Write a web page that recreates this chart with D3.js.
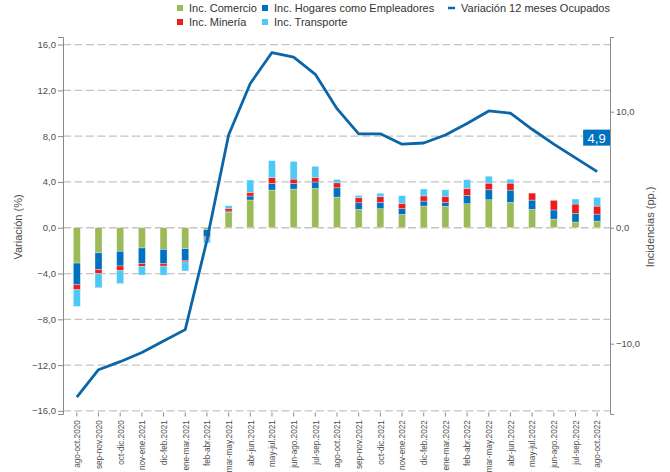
<!DOCTYPE html>
<html>
<head>
<meta charset="utf-8">
<script src="https://cdn.jsdelivr.net/npm/d3@7"></script>
<style>
  body { margin: 0; background: #fff; }
  text { font-family: "Liberation Sans", Arial, sans-serif; }
</style>
</head>
<body>
<svg width="670" height="472"></svg>
<script>
// ---------------------------- datos ----------
var periodos = ["ago-oct.2020","sep-nov.2020","oct-dic.2020","nov-ene.2021","dic-feb.2021",
    "ene-mar.2021","feb-abr.2021","mar-may.2021","abr-jun.2021","may-jul.2021","jun-ago.2021",
    "jul-sep.2021","ago-oct.2021","sep-nov.2021","oct-dic.2021","nov-ene.2022","dic-feb.2022",
    "ene-mar.2022","feb-abr.2022","mar-may.2022","abr-jun.2022","may-jul.2022","jun-ago.2022",
    "jul-sep.2022","ago-oct.2022"];
var comercio   = [-3.05,-2.16,-2.04,-1.75,-1.87,-1.81,-0.17,1.35,2.39,3.25,3.33,3.39,2.64,1.58,1.64,1.15,1.87,1.84,2.07,2.41,2.18,1.58,0.75,0.49,0.57];
var hogares    = [-1.87,-1.44,-1.26,-1.35,-1.24,-1.00,-0.57,0.09,0.34,0.57,0.49,0.55,0.80,0.57,0.55,0.49,0.42,0.32,0.72,0.86,1.06,0.80,0.78,0.75,0.60];
var mineria    = [-0.43,-0.37,-0.40,-0.23,-0.20,-0.14,-0.14,0.23,0.32,0.49,0.37,0.40,0.43,0.43,0.49,0.46,0.45,0.55,0.60,0.57,0.60,0.60,0.83,0.80,0.69];
var transporte = [-1.44,-1.21,-1.12,-0.75,-0.78,-0.78,-0.43,0.23,1.06,1.47,1.52,0.95,0.29,0.20,0.29,0.66,0.60,0.56,0.75,0.60,0.34,0,0,0.43,0.75];
var ocupados   = [-14.8,-12.4,-11.7,-10.9,-9.9,-8.9,-1.1,8.1,12.6,15.3,14.9,13.4,10.4,8.2,8.2,7.3,7.4,8.1,9.1,10.2,10.0,8.6,7.3,6.1,4.9];
var ticksIzq = [-16,-12,-8,-4,0,4,8,12,16];
var ticksDer = [-10,0,10];

var series = [
    {key: "comercio",   name: "Inc. Comercio",                 color: "#9bbb59"},
    {key: "hogares",    name: "Inc. Hogares como Empleadores", color: "#0070c0"},
    {key: "mineria",    name: "Inc. Minería",                  color: "#ee1c1c"},
    {key: "transporte", name: "Inc. Transporte",               color: "#4dc9f6"}
];
var lineColor = "#0a66a8";

var rows = periodos.map((p,i)=>{
    return {periodo: p, comercio: comercio[i], hogares: hogares[i], mineria: mineria[i], transporte: transporte[i]};
});

// ---------------------------- escalas ----------
var plotTop = 37, plotBottom = 414, plotLeft = 63, plotRight = 610;
var svg = d3.select('svg');
var fmt = d => d3.format(".1f")(d).replace(".", ",");

var x = d3.scaleBand()
    .domain(periodos)
    .range([66, 608])
    .paddingInner(0.677)
    .paddingOuter(0.3385);

var yIzq = d3.scaleLinear().domain([-16.27, 16.66]).range([plotBottom, plotTop]);
var yDer = d3.scaleLinear().domain([-16.06, 16.44]).range([plotBottom, plotTop]);

// grid
svg.append('g').selectAll('line')
    .data(ticksIzq)
    .enter().append('line')
    .attr('x1', plotLeft).attr('x2', plotRight)
    .attr('y1', d => yIzq(d)).attr('y2', d => yIzq(d))
    .style('stroke', '#c4c4c4')
    .style('stroke-width', 1.3)
    .style('stroke-dasharray', '8,3.5');

// ---------------------------- barras ----------
var stack = d3.stack()
    .keys(series.map(s => s.key))
    .offset(d3.stackOffsetDiverging);
var stacked = stack(rows);

svg.append('g').selectAll('g')
    .data(stacked)
    .enter().append('g')
    .style('fill', (d,i) => series[i].color)
    .selectAll('rect')
    .data(d => d)
    .enter().append('rect')
    .attr('x', d => x(d.data.periodo))
    .attr('width', x.bandwidth())
    .attr('y', d => yDer(Math.max(d[0], d[1])))
    .attr('height', d => Math.abs(yDer(d[0]) - yDer(d[1])))
    .style('stroke', '#fff')
    .style('stroke-opacity', 0.5)
    .style('stroke-width', 0.6);

// ---------------------------- linea ----------
var line = d3.line()
    .x((d,i) => x(periodos[i]) + x.bandwidth()/2)
    .y(d => yIzq(d));

svg.append('path')
    .datum(ocupados)
    .attr('d', line)
    .style('fill', 'none')
    .style('stroke', lineColor)
    .style('stroke-width', 2.8)
    .style('stroke-linejoin', 'round');

// ultimo valor
var last = ocupados.length - 1;
var lx = x(periodos[last]) + x.bandwidth()/2;
var ly = yIzq(ocupados[last]) - 34;
svg.append('rect')
    .attr('x', lx - 14).attr('y', ly - 8)
    .attr('width', 27).attr('height', 16)
    .style('fill', '#0070c0');
svg.append('text')
    .attr('x', lx - 0.5).attr('y', ly + 5)
    .attr('text-anchor', 'middle')
    .style('fill', '#fff')
    .style('font-size', '13px')
    .text(fmt(ocupados[last]));

// ---------------------------- ejes ----------
var axisIzq = d3.axisLeft(yIzq).tickValues(ticksIzq).tickFormat(fmt).tickSize(5).tickPadding(2);
var gIzq = svg.append('g').attr('transform', 'translate(' + plotLeft + ',0)').call(axisIzq);

var axisDer = d3.axisRight(yDer).tickValues(ticksDer).tickFormat(fmt).tickSize(4).tickPadding(2);
var gDer = svg.append('g').attr('transform', 'translate(' + plotRight + ',0)').call(axisDer);

var axisX = d3.axisBottom(x).tickSize(4).tickSizeOuter(0);
var gX = svg.append('g').attr('transform', 'translate(0,' + (plotBottom - 1.5) + ')').call(axisX);
gX.select('.domain').remove();

[gIzq, gDer, gX].forEach(g => {
    g.selectAll('.domain').style('stroke', '#8a8a8a');
    g.selectAll('.tick line').style('stroke', '#8a8a8a');
    g.selectAll('text')
     .style('font-size', '9.5px')
     .style('fill', '#4d4d4d')
     .style('font-family', '"Liberation Sans", Arial, sans-serif');
});

gX.selectAll('text')
    .attr('transform', 'rotate(-90) scale(0.86,1)')
    .attr('text-anchor', 'end')
    .attr('x', -9)
    .attr('y', 0)
    .attr('dy', '0.35em');

svg.append('text')
    .attr('transform', 'translate(22,227) rotate(-90)')
    .attr('text-anchor', 'middle')
    .style('font-size', '11px')
    .style('fill', '#4d4d4d')
    .text('Variación (%)');

svg.append('text')
    .attr('transform', 'translate(654,227) rotate(-90)')
    .attr('text-anchor', 'middle')
    .style('font-size', '11px')
    .style('fill', '#4d4d4d')
    .text('Incidencias (pp.)');

// ---------------------------- leyenda ----------
var legendPos = [[177, 8], [262, 8], [177, 22], [262, 22]];
var legendOrder = [0, 1, 2, 3];
var leg = svg.append('g').selectAll('g')
    .data(legendOrder)
    .enter().append('g')
    .attr('transform', (d,i) => 'translate(' + legendPos[i][0] + ',' + legendPos[i][1] + ')');
leg.append('rect')
    .attr('x', 0).attr('y', -3)
    .attr('width', 6).attr('height', 6)
    .style('fill', d => series[d].color);
leg.append('text')
    .attr('x', 12).attr('y', 4)
    .style('font-size', '11px')
    .style('fill', '#333')
    .text(d => series[d].name);

var legLine = svg.append('g').attr('transform', 'translate(448,8)');
legLine.append('line')
    .attr('x1', 0).attr('x2', 7)
    .style('stroke', lineColor)
    .style('stroke-width', 2.5);
legLine.append('text')
    .attr('x', 13).attr('y', 4)
    .style('font-size', '11px')
    .style('fill', '#333')
    .text('Variación 12 meses Ocupados');
</script>
</body>
</html>
